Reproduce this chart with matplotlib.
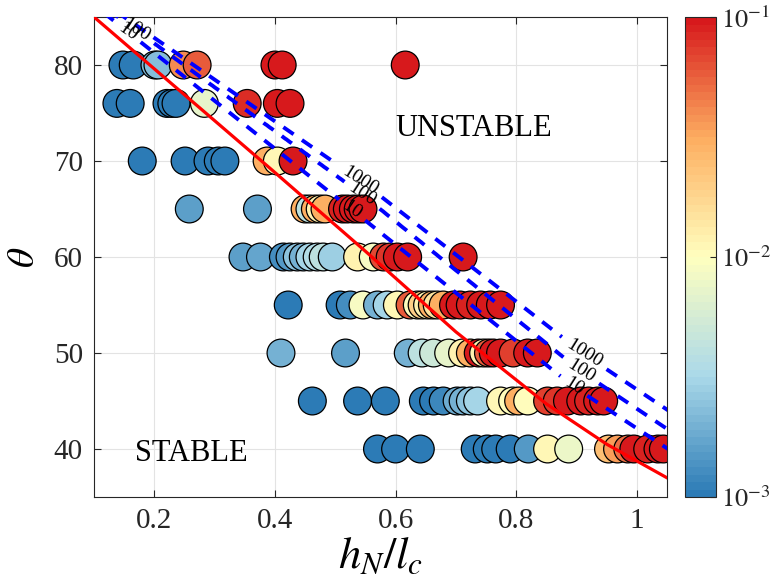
import numpy as np
import matplotlib
matplotlib.use('Agg')
import matplotlib.pyplot as plt
from matplotlib.colors import LinearSegmentedColormap, LogNorm
from matplotlib.ticker import FuncFormatter

plt.rcParams['font.family'] = ['Liberation Serif', 'DejaVu Serif']
plt.rcParams['mathtext.fontset'] = 'stix'

# --- measured points: one row per angle theta, h_N/l_c positions and colour value ---
theta_rows = [80, 76, 70, 65, 60, 55, 50, 45, 40]

h_80 = [0.148, 0.165, 0.201, 0.206, 0.248, 0.271, 0.400, 0.412, 0.616]
v_80 = [1e-3, 1e-3, 2.2e-3, 2.3e-3, 0.04, 0.06, 0.1, 0.1, 0.1]

h_76 = [0.138, 0.160, 0.221, 0.229, 0.236, 0.283, 0.354, 0.404, 0.425]
v_76 = [1e-3, 1e-3, 1e-3, 1e-3, 1e-3, 7e-3, 0.085, 0.1, 0.1]

h_70 = [0.180, 0.251, 0.289, 0.306, 0.317, 0.387, 0.404, 0.430]
v_70 = [1e-3, 1e-3, 1e-3, 1e-3, 1e-3, 0.03, 0.011, 0.1]

h_65 = [0.258, 0.371, 0.450, 0.458, 0.467, 0.475, 0.483, 0.512, 0.520, 0.530, 0.538, 0.546]
v_65 = [1.6e-3, 1.6e-3, 0.03, 4e-3, 0.03, 0.012, 0.03, 0.09, 0.1, 0.1, 0.1, 0.1]

h_60 = [0.347, 0.376, 0.414, 0.425, 0.437, 0.447, 0.458, 0.470, 0.480, 0.495,
        0.537, 0.563, 0.580, 0.591, 0.603, 0.620, 0.712]
v_60 = [1.6e-3, 1.7e-3, 1.3e-3, 1.5e-3, 2.5e-3, 2e-3, 3e-3, 3.5e-3, 4e-3, 2.8e-3,
        0.012, 9e-3, 0.065, 0.08, 0.1, 0.1, 0.1]

h_55 = [0.422, 0.508, 0.525, 0.546, 0.570, 0.586, 0.603, 0.624, 0.636, 0.644,
        0.653, 0.661, 0.669, 0.679, 0.696, 0.707, 0.724, 0.741, 0.757, 0.774]
v_55 = [1e-3, 1e-3, 1.3e-3, 9e-3, 2e-3, 3e-3, 0.011, 0.06, 0.01, 0.02,
        0.012, 0.03, 0.015, 0.03, 0.1, 0.1, 0.09, 0.1, 0.1, 0.1]

h_50 = [0.41, 0.517, 0.621, 0.644, 0.663, 0.688, 0.711, 0.724, 0.737, 0.746,
        0.754, 0.762, 0.774, 0.795, 0.819, 0.835]
v_50 = [2e-3, 1.6e-3, 2e-3, 4e-3, 5e-3, 7e-3, 0.012, 0.03, 0.1, 0.012,
        0.06, 0.1, 0.1, 0.07, 0.1, 0.1]

h_45 = [0.462, 0.537, 0.583, 0.646, 0.663, 0.679, 0.702, 0.712, 0.724, 0.736,
        0.774, 0.794, 0.804, 0.819, 0.852, 0.868, 0.885, 0.907, 0.920, 0.935, 0.945]
v_45 = [1e-3, 1e-3, 1e-3, 1e-3, 1e-3, 1.2e-3, 1.8e-3, 2e-3, 2.5e-3, 3e-3,
        0.011, 0.01, 0.03, 0.01, 0.07, 0.08, 0.1, 0.1, 0.09, 0.1, 0.1]

h_40 = [0.570, 0.600, 0.641, 0.732, 0.752, 0.766, 0.790, 0.820, 0.852, 0.887,
        0.953, 0.968, 0.985, 0.995, 1.018, 1.035, 1.044]
v_40 = [1e-3, 1e-3, 1e-3, 1e-3, 1e-3, 1e-3, 1e-3, 1.5e-3, 0.011, 8e-3,
        0.025, 0.035, 0.05, 0.1, 0.09, 0.1, 0.1]

h_rows = [h_80, h_76, h_70, h_65, h_60, h_55, h_50, h_45, h_40]
v_rows = [v_80, v_76, v_70, v_65, v_60, v_55, v_50, v_45, v_40]

# stability boundary (red)
red_h = [0.10, 0.25, 0.40, 0.55, 0.70, 0.85, 0.95, 1.05]
red_theta = [85.0, 76.9, 68.8, 60.6, 52.2, 44.7, 40.5, 37.0]

# iso-lines 10 / 100 / 1000 (blue dashed)
c10_h = [0.08, 0.125, 0.528, 0.895, 1.10]
c10_theta = [87.2, 85.0, 64.9, 46.5, 38.0]
c100_h = [0.08, 0.14, 0.545, 0.907, 1.10]
c100_theta = [87.7, 85.0, 66.5, 48.1, 40.0]
c1000_h = [0.08, 0.15, 0.541, 0.912, 1.10]
c1000_theta = [88.0, 85.0, 68.0, 49.9, 42.0]
levels = [10, 100, 1000]

# colormap (RdYlBu reversed, 64 steps like the original)
cmap = LinearSegmentedColormap.from_list(
    'rdylbu', ['#2c7bb6', '#abd9e9', '#ffffbf', '#fdae61', '#d7191c'], N=64)
norm = LogNorm(vmin=1e-3, vmax=1e-1)

fig = plt.figure(figsize=(7.74, 5.86), dpi=100)
ax = fig.add_axes([94 / 774, 89 / 586, 573 / 774, 480 / 586])
cax = fig.add_axes([685 / 774, 89 / 586, 31 / 774, 480 / 586])

for th, hs, vs in zip(theta_rows, h_rows, v_rows):
    ax.scatter(hs, [th] * len(hs), c=vs, cmap=cmap, norm=norm, s=400,
               edgecolors='black', linewidths=0.9, zorder=2)

ax.plot(red_h, red_theta, color='#ff0000', lw=2.3, zorder=4)

# build a field whose contours are the three iso-lines
hg = np.linspace(0.08, 1.10, 500)
tg = np.linspace(30, 92, 500)
H, T = np.meshgrid(hg, tg)
t10 = np.interp(H, c10_h, c10_theta)
t100 = np.interp(H, c100_h, c100_theta)
t1000 = np.interp(H, c1000_h, c1000_theta)
lz = np.where(T < t100, 1 + (T - t10) / (t100 - t10),
              2 + (T - t100) / (t1000 - t100))
cs = ax.contour(H, T, lz, levels=np.log10(levels), colors='#0000ff',
                linewidths=2.8, linestyles=[(0, (3.2, 2.6))], zorder=3)
ax.clabel(cs, fmt=lambda l: '%d' % round(10 ** l), fontsize=14, inline=True,
          colors='black',
          manual=[(0.155, 83.4), (0.17, 83.6),
                  (0.528, 64.9), (0.545, 66.5), (0.541, 68.0),
                  (0.895, 46.5), (0.907, 48.1), (0.912, 49.9)])

ax.text(0.6, 73.4, 'UNSTABLE', fontsize=22, va='center', ha='left')
ax.text(0.168, 39.5, 'STABLE', fontsize=22, va='center', ha='left')

ax.set_xlim(0.1, 1.05)
ax.set_ylim(35, 85)
ax.set_xticks([0.2, 0.4, 0.6, 0.8, 1.0])
ax.set_xticklabels(['0.2', '0.4', '0.6', '0.8', '1'])
ax.set_yticks([40, 50, 60, 70, 80])
ax.grid(True, color='#e3e3e3', lw=0.8, zorder=0)
ax.set_axisbelow(True)
ax.tick_params(direction='in', top=True, right=True, length=5, width=0.8,
               labelsize=21, colors='#262626', pad=8)
for sp in ax.spines.values():
    sp.set_color('#262626')
    sp.set_linewidth(0.8)
ax.set_xlabel(r'$h_N/l_c$', fontsize=32, labelpad=2)
ax.set_ylabel(r'$\theta$', fontsize=28, labelpad=8)

sm = plt.cm.ScalarMappable(cmap=cmap, norm=norm)
cb = fig.colorbar(sm, cax=cax, ticks=[1e-3, 1e-2, 1e-1])
cb.ax.minorticks_off()
cb.ax.yaxis.set_major_formatter(FuncFormatter(lambda v, p: r'$10^{%d}$' % round(np.log10(v))))
cb.ax.tick_params(direction='in', length=4, width=0.8, labelsize=19, colors='#262626')
cb.outline.set_linewidth(0.8)
cb.outline.set_edgecolor('#262626')

fig.savefig('out.png', dpi=100)
